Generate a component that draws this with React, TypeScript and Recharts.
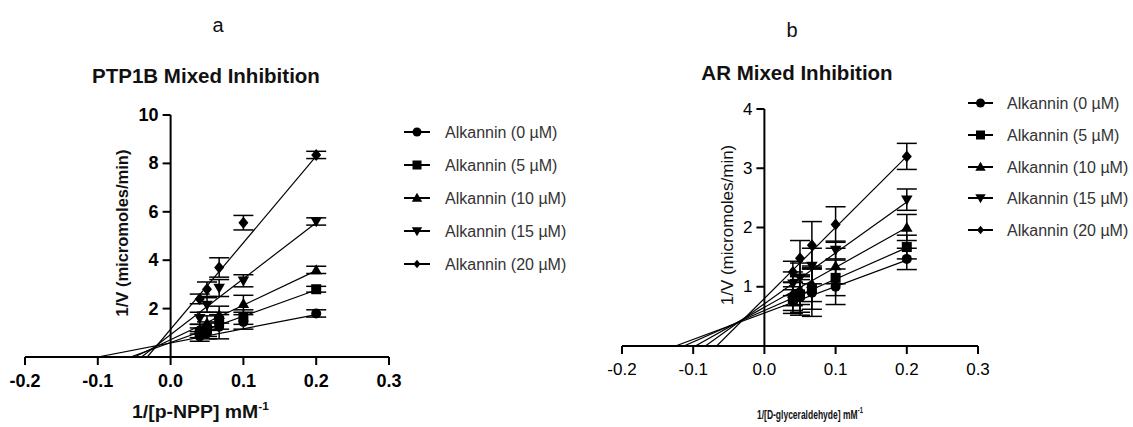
import React from 'react';
import { ComposedChart, Scatter, XAxis, YAxis, ErrorBar, ReferenceLine, ReferenceDot } from 'recharts';

// 1/[S] values (mM^-1) for 25, 20, 15, 10 and 5 mM substrate
const invSubstrate = [0.04, 0.05, 0.0667, 0.1, 0.2];

const doseLabels = [
  'Alkannin (0 µM)',
  'Alkannin (5 µM)',
  'Alkannin (10 µM)',
  'Alkannin (15 µM)',
  'Alkannin (20 µM)',
];

// PTP1B: mean 1/V and SD per dose
const ptp1bMeans = [
  [0.85, 1.0, 1.25, 1.45, 1.8],
  [1.0, 1.15, 1.5, 1.65, 2.8],
  [1.15, 1.4, 1.75, 2.2, 3.6],
  [1.6, 2.15, 2.85, 3.15, 5.6],
  [2.4, 2.8, 3.7, 5.55, 8.35],
];
const ptp1bErrors = [
  [0.2, 0.25, 0.5, 0.3, 0.15],
  [0.2, 0.3, 0.35, 0.3, 0.12],
  [0.2, 0.3, 0.35, 0.35, 0.15],
  [0.25, 0.3, 0.35, 0.25, 0.15],
  [0.2, 0.3, 0.4, 0.3, 0.15],
];
// linear fits: x-intercept and fitted 1/V at x = 0.2
const ptp1bFitStart = [-0.1, -0.055, -0.05, -0.04, -0.032];
const ptp1bFitEnd = [1.75, 2.77, 3.57, 5.55, 8.3];

// AR: mean 1/V and SD per dose
const arMeans = [
  [0.75, 0.82, 0.9, 1.0, 1.47],
  [0.8, 0.87, 0.97, 1.15, 1.67],
  [0.88, 0.95, 1.05, 1.35, 2.0],
  [1.05, 1.15, 1.35, 1.62, 2.47],
  [1.25, 1.48, 1.7, 2.05, 3.2],
];
const arErrors = [
  [0.2, 0.3, 0.4, 0.3, 0.18],
  [0.2, 0.3, 0.35, 0.3, 0.2],
  [0.2, 0.25, 0.3, 0.3, 0.22],
  [0.2, 0.25, 0.3, 0.15, 0.18],
  [0.18, 0.3, 0.4, 0.3, 0.22],
];
const arFitStart = [-0.125, -0.113, -0.097, -0.083, -0.067];
const arFitEnd = [1.45, 1.66, 2.0, 2.43, 3.2];

const xTicks = [-0.2, -0.1, 0, 0.1, 0.2, 0.3];
const ptp1bYTicks = [2, 4, 6, 8, 10];
const arYTicks = [1, 2, 3, 4];

type MarkerKind = 'circle' | 'square' | 'triangle' | 'triangleDown' | 'diamond';
const markerKinds: MarkerKind[] = ['circle', 'square', 'triangle', 'triangleDown', 'diamond'];

const FONT = '"Liberation Sans", Arial, sans-serif';

function Marker({ kind, cx, cy, s }: { kind: MarkerKind; cx: number; cy: number; s: number }) {
  const h = s / 2;
  switch (kind) {
    case 'circle':
      return <circle cx={cx} cy={cy} r={h} fill="#000" />;
    case 'square':
      return <rect x={cx - h} y={cy - h} width={s} height={s} fill="#000" />;
    case 'triangle':
      return <polygon points={`${cx},${cy - h * 1.15} ${cx + h * 1.15},${cy + h * 0.85} ${cx - h * 1.15},${cy + h * 0.85}`} fill="#000" />;
    case 'triangleDown':
      return <polygon points={`${cx},${cy + h * 1.15} ${cx + h * 1.15},${cy - h * 0.85} ${cx - h * 1.15},${cy - h * 0.85}`} fill="#000" />;
    default:
      return <polygon points={`${cx},${cy - h * 1.2} ${cx + h},${cy} ${cx},${cy + h * 1.2} ${cx - h},${cy}`} fill="#000" />;
  }
}

interface PanelProps {
  means: number[][];
  errors: number[][];
  fitStart: number[];
  fitEnd: number[];
  yMax: number;
  yTicks: number[];
  width: number;
  margin: { top: number; right: number; bottom: number; left: number };
  bold: boolean;
  tickFont: number;
}

const Panel = ({ means, errors, fitStart, fitEnd, yMax, yTicks, width, margin, bold, tickFont }: PanelProps) => {
  const weight = bold ? 700 : 400;
  return (
    <ComposedChart width={width} height={427} margin={margin}>
      <XAxis
        type="number"
        dataKey="x"
        domain={[-0.2, 0.3]}
        ticks={xTicks}
        allowDataOverflow
        axisLine={{ stroke: '#000', strokeWidth: 2 }}
        tickLine={{ stroke: '#000', strokeWidth: 2 }}
        tickSize={8}
        tickMargin={9}
        height={30}
        tick={(p: any) => (
          <text
            x={p.x}
            y={p.y}
            dy="0.71em"
            textAnchor="middle"
            style={{ fontSize: tickFont, fontWeight: weight, fontFamily: FONT }}
            fill="#000"
          >
            {Number(p.payload.value).toFixed(1)}
          </text>
        )}
      />
      <YAxis type="number" dataKey="y" domain={[0, yMax]} allowDataOverflow hide />
      <ReferenceLine x={0} stroke="#000" strokeWidth={2} />
      {yTicks.map((v) => (
        <ReferenceDot
          key={v}
          x={0}
          y={v}
          r={0}
          shape={(p: any) => (
            <g>
              <line x1={p.cx - 8} y1={p.cy} x2={p.cx} y2={p.cy} stroke="#000" strokeWidth={2} />
              <text
                x={p.cx - 12}
                y={p.cy}
                textAnchor="end"
                dominantBaseline="central"
                style={{ fontSize: tickFont, fontWeight: weight, fontFamily: FONT }}
                fill="#000"
              >
                {v}
              </text>
            </g>
          )}
        />
      ))}
      {fitStart.map((x0, i) => (
        <Scatter
          key={`fit-${i}`}
          data={[
            { x: x0, y: 0 },
            { x: 0.2, y: fitEnd[i] },
          ]}
          line={{ stroke: '#000', strokeWidth: 1.2 }}
          shape={() => <g />}
          isAnimationActive={false}
        />
      ))}
      {means.map((row, i) => (
        <Scatter
          key={`pts-${i}`}
          data={invSubstrate.map((x, j) => ({ x, y: row[j], err: errors[i][j] }))}
          shape={(p: any) => <Marker kind={markerKinds[i]} cx={p.cx} cy={p.cy} s={10} />}
          isAnimationActive={false}
        >
          <ErrorBar dataKey="err" direction="y" width={10} stroke="#000" strokeWidth={1.5} isAnimationActive={false} />
        </Scatter>
      ))}
    </ComposedChart>
  );
};

const Legend = ({ x, y, gap, lineW }: { x: number; y: number[]; gap: number; lineW: number }) => (
  <g>
    {doseLabels.map((label, i) => (
      <g key={label}>
        <line x1={x} y1={y[i]} x2={x + lineW} y2={y[i]} stroke="#000" strokeWidth={2} />
        <Marker kind={markerKinds[i]} cx={x + lineW / 2} cy={y[i]} s={i === 4 ? 7 : 9} />
        <text x={x + lineW + gap} y={y[i]} dominantBaseline="central" fontSize={16} fontFamily={FONT} fill="#333">
          {label}
        </text>
      </g>
    ))}
  </g>
);

export default function App() {
  return (
    <div style={{ position: 'fixed', left: 0, top: 0, width: 1133, height: 427, background: '#fff' }}>
      <div style={{ position: 'absolute', left: 0, top: 0 }}>
        <Panel
          means={ptp1bMeans}
          errors={ptp1bErrors}
          fitStart={ptp1bFitStart}
          fitEnd={ptp1bFitEnd}
          yMax={10}
          yTicks={ptp1bYTicks}
          width={560}
          margin={{ top: 115, right: 171, bottom: 40, left: 25 }}
          bold
          tickFont={18}
        />
      </div>
      <div style={{ position: 'absolute', left: 560, top: 0 }}>
        <Panel
          means={arMeans}
          errors={arErrors}
          fitStart={arFitStart}
          fitEnd={arFitEnd}
          yMax={4}
          yTicks={arYTicks}
          width={573}
          margin={{ top: 109, right: 155, bottom: 51, left: 62 }}
          bold={false}
          tickFont={17}
        />
      </div>
      <svg width={1133} height={427} style={{ position: 'absolute', left: 0, top: 0, pointerEvents: 'none' }}>
        <text x={218} y={25} textAnchor="middle" dominantBaseline="central" fontSize={20} fontFamily={FONT} fill="#111">a</text>
        <text x={792} y={30} textAnchor="middle" dominantBaseline="central" fontSize={20} fontFamily={FONT} fill="#111">b</text>
        <text x={206} y={75} textAnchor="middle" dominantBaseline="central" fontSize={20.5} fontWeight="bold" fontFamily={FONT} fill="#111">
          PTP1B Mixed Inhibition
        </text>
        <text x={797} y={72} textAnchor="middle" dominantBaseline="central" fontSize={20.5} fontWeight="bold" fontFamily={FONT} fill="#111">
          AR Mixed Inhibition
        </text>
        <text
          x={122}
          y={233}
          transform="rotate(-90 122 233)"
          textAnchor="middle"
          dominantBaseline="central"
          fontSize={16.5}
          fontWeight="bold"
          fontFamily={FONT}
          fill="#111"
        >
          1/V (micromoles/min)
        </text>
        <text
          x={727}
          y={225}
          transform="rotate(-90 727 225)"
          textAnchor="middle"
          dominantBaseline="central"
          fontSize={17}
          fontFamily={FONT}
          fill="#111"
        >
          1/V (micromoles/min)
        </text>
        <g transform="translate(132 418) scale(1.08 1)">
          <text x={0} y={0} fontSize={18} fontWeight="bold" fontFamily={FONT} fill="#111">
            1/[p-NPP] mM
          </text>
          <text x={117} y={-8} fontSize={11} fontWeight="bold" fontFamily={FONT} fill="#111">
            -1
          </text>
        </g>
        <g transform="translate(757 419) scale(0.63 1)">
          <text x={0} y={0} fontSize={13.5} fontWeight="bold" fontFamily={FONT} fill="#111">
            1/[D-glyceraldehyde] mM
          </text>
          <text x={160} y={-6} fontSize={9} fontWeight="bold" fontFamily={FONT} fill="#111">
            -1
          </text>
        </g>
        <Legend x={404} y={[132, 165, 198, 231, 264]} gap={15} lineW={26} />
        <Legend x={968} y={[103, 135, 167, 198, 230]} gap={14} lineW={25} />
      </svg>
    </div>
  );
}
